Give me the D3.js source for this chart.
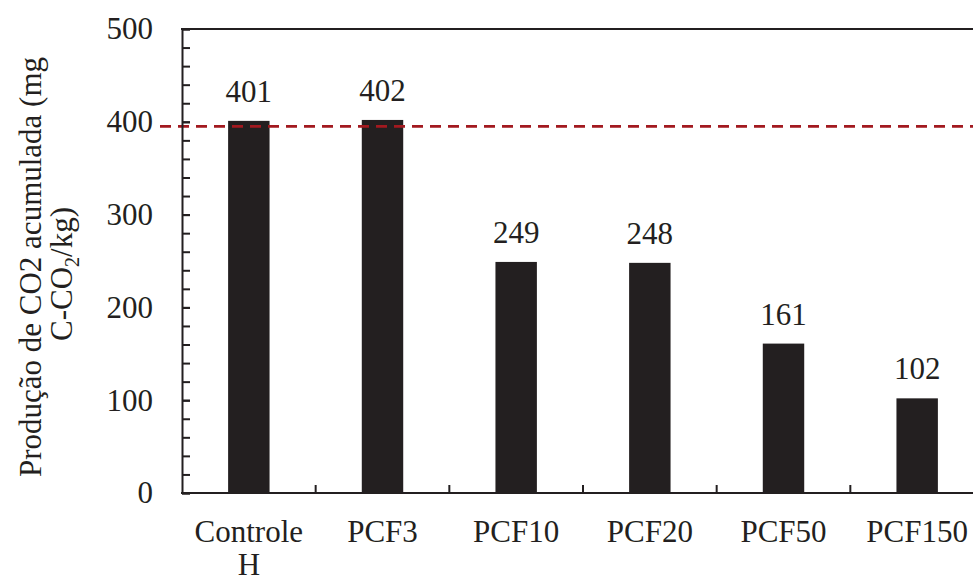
<!DOCTYPE html>
<html>
<head>
<meta charset="utf-8">
<script src="https://cdn.jsdelivr.net/npm/d3@7"></script>
<style>
  html, body { margin: 0; padding: 0; background: #fff; }
  svg { display: block; }
  text { font-family: "Liberation Serif", "Times New Roman", serif; fill: #231f20; }
</style>
</head>
<body>
<svg id="chart" width="973" height="578"></svg>
<script>
const categories = [["Controle", "H"], ["PCF3"], ["PCF10"], ["PCF20"], ["PCF50"], ["PCF150"]];
const values = [401, 402, 249, 248, 161, 102];
const yTicks = [0, 100, 200, 300, 400, 500];
const referenceValue = 395;

const svg = d3.select("#chart");
const W = 973, H = 578;
const mLeft = 182, mRight = 984, mTop = 29, mBottom = 493;
const ink = "#231f20";
const fs = 31;

const keys = categories.map(c => c.join(" "));
const x = d3.scaleBand().domain(keys).range([mLeft, mRight]).paddingInner(0.69).paddingOuter(0.345);
const y = d3.scaleLinear().domain([0, 500]).range([mBottom, mTop]);

// Bars
svg.append("g").selectAll("rect").data(values).join("rect")
  .attr("x", (d, i) => x(keys[i]))
  .attr("y", d => y(d))
  .attr("width", x.bandwidth())
  .attr("height", d => y(0) - y(d))
  .attr("fill", ink);

// Value labels
svg.append("g").selectAll("text").data(values).join("text")
  .attr("x", (d, i) => x(keys[i]) + x.bandwidth() / 2)
  .attr("y", d => y(d) - 19)
  .attr("text-anchor", "middle")
  .attr("font-size", fs)
  .text(d => d);

// Reference dashed line
svg.append("line")
  .attr("x1", 160).attr("x2", W)
  .attr("y1", y(referenceValue)).attr("y2", y(referenceValue))
  .attr("stroke", "#a2191f").attr("stroke-width", 2.7)
  .attr("stroke-dasharray", "11,7");

// Y axis minor ticks
const minor = d3.range(0, 501, 20);
svg.append("g").attr("transform", `translate(${mLeft},0)`)
  .call(d3.axisLeft(y).tickValues(minor).tickSizeInner(-8).tickSizeOuter(0).tickFormat(""))
  .call(g => g.select(".domain").remove())
  .call(g => g.selectAll("line").attr("stroke", ink).attr("stroke-width", 2));

// Y axis major ticks + labels
svg.append("g").attr("transform", `translate(${mLeft},0)`)
  .call(d3.axisLeft(y).tickValues(yTicks).tickSizeInner(-8).tickSizeOuter(0).tickPadding(29))
  .call(g => g.select(".domain").attr("stroke", ink).attr("stroke-width", 2))
  .call(g => g.selectAll("line").attr("stroke", ink).attr("stroke-width", 2))
  .call(g => g.selectAll("text").attr("font-size", fs).attr("font-family", "Liberation Serif").attr("fill", ink));

// Top border line
svg.append("line")
  .attr("x1", mLeft - 1).attr("x2", W)
  .attr("y1", y(500)).attr("y2", y(500))
  .attr("stroke", ink).attr("stroke-width", 2);

// X axis line
svg.append("line")
  .attr("x1", mLeft - 1).attr("x2", W)
  .attr("y1", y(0)).attr("y2", y(0))
  .attr("stroke", ink).attr("stroke-width", 2);

// Category boundary ticks
const bounds = d3.range(1, keys.length + 1).map(i => mLeft + i * x.step());
svg.append("g").selectAll("line").data(bounds).join("line")
  .attr("x1", d => d).attr("x2", d => d)
  .attr("y1", y(0)).attr("y2", y(0) - 8)
  .attr("stroke", ink).attr("stroke-width", 2);

// Category labels
const cl = svg.append("g").selectAll("text").data(categories).join("text")
  .attr("text-anchor", "middle")
  .attr("font-size", fs)
  .attr("x", (d, i) => x(keys[i]) + x.bandwidth() / 2)
  .attr("y", 542);
cl.selectAll("tspan").data(d => d).join("tspan")
  .attr("x", function() { return this.parentNode.getAttribute("x"); })
  .attr("dy", (d, i) => i === 0 ? 0 : 33)
  .text(d => d);

// Y axis title (two lines, rotated)
svg.append("text")
  .attr("transform", "translate(41,267) rotate(-90)")
  .attr("text-anchor", "middle").attr("font-size", fs)
  .text("Produção de CO2 acumulada (mg");
const t2 = svg.append("text")
  .attr("transform", "translate(72,274) rotate(-90)")
  .attr("text-anchor", "middle").attr("font-size", fs);
t2.append("tspan").text("C-CO");
t2.append("tspan").attr("font-size", 20).attr("dy", 7).text("2");
t2.append("tspan").attr("dy", -7).text("/kg)");
</script>
</body>
</html>
